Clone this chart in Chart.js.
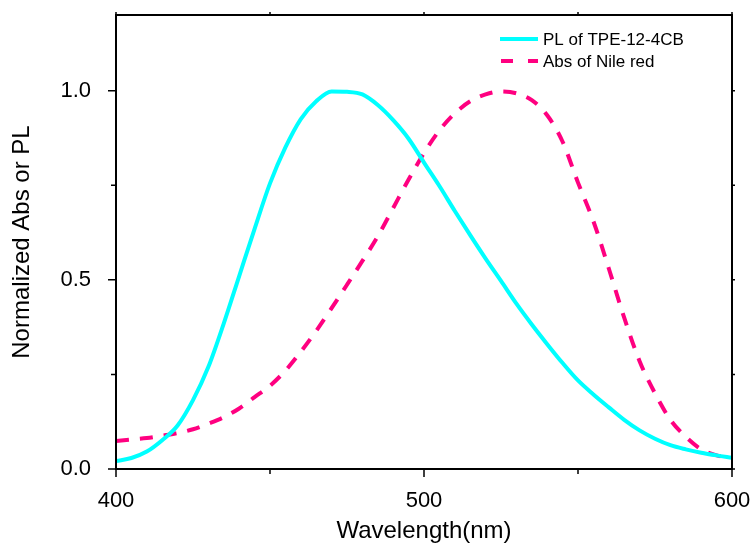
<!DOCTYPE html>
<html>
<head>
<meta charset="utf-8">
<script src="https://cdn.jsdelivr.net/npm/chart.js@4.4.0/dist/chart.umd.min.js"></script>
<style>
  html, body { margin: 0; padding: 0; background: #fff; }
  #c { display: block; }
</style>
</head>
<body>
<canvas id="c" width="755" height="548"></canvas>
<script>
// wavelength grid (nm)
const wavelength = [400, 405, 410, 415, 420, 425, 430, 435, 440, 445, 450, 455, 460, 465, 470, 475, 480, 485, 490, 495,
  500, 505, 510, 515, 520, 525, 530, 535, 540, 545, 550, 555, 560, 565, 570, 575, 580, 585, 590, 595, 600];

// PL of TPE-12-4CB (normalized)
const plTPE = [0.021, 0.029, 0.046, 0.076, 0.115, 0.182, 0.27, 0.385, 0.51, 0.635, 0.755, 0.85, 0.925, 0.972, 0.998, 0.997, 0.99, 0.962, 0.922, 0.873,
  0.81, 0.748, 0.682, 0.618, 0.556, 0.497, 0.437, 0.382, 0.33, 0.28, 0.234, 0.197, 0.163, 0.13, 0.102, 0.08, 0.063, 0.052, 0.043, 0.036, 0.03];

// Abs of Nile red (normalized)
const absNileRed = [0.074, 0.078, 0.082, 0.088, 0.095, 0.105, 0.12, 0.137, 0.16, 0.19, 0.22, 0.26, 0.31, 0.365, 0.425, 0.487, 0.55, 0.615, 0.69, 0.765,
  0.835, 0.895, 0.94, 0.972, 0.99, 0.998, 0.993, 0.975, 0.935, 0.865, 0.757, 0.655, 0.53, 0.40, 0.285, 0.2, 0.13, 0.085, 0.052, 0.036, 0.03];

const seriesNames = ["PL of TPE-12-4CB", "Abs of Nile red"];

const xTickValues = [400, 450, 500, 550, 600];
const xTickLabels = ["400", "", "500", "", "600"];
const yTickValues = [0, 0.25, 0.5, 0.75, 1.0];
const yTickLabels = ["0.0", "", "0.5", "", "1.0"];

const FONT = "'Liberation Sans', Arial, sans-serif";
const CYAN = "#00FFFF";
const PINK = "#FF0080";

// box around the plot + tick marks on all four sides (like Origin)
const framePlugin = {
  id: "frame",
  afterDraw(chart) {
    const { ctx, chartArea: a, scales } = chart;
    ctx.save();
    ctx.strokeStyle = "#000";
    ctx.lineWidth = 1.5;
    ctx.beginPath();
    scales.x.ticks.forEach((t, i) => {
      const px = scales.x.getPixelForValue(t.value);
      const len = xTickLabels[i] ? 8 : 5;
      ctx.moveTo(px, a.bottom); ctx.lineTo(px, a.bottom + len);
      ctx.moveTo(px, a.top); ctx.lineTo(px, a.top - 3);
    });
    scales.y.ticks.forEach((t, i) => {
      const py = scales.y.getPixelForValue(t.value);
      const len = yTickLabels[i] ? 8 : 5;
      ctx.moveTo(a.left, py); ctx.lineTo(a.left - len, py);
      ctx.moveTo(a.right, py); ctx.lineTo(a.right + 3, py);
    });
    ctx.stroke();
    ctx.lineWidth = 2;
    ctx.strokeRect(a.left, a.top, a.right - a.left, a.bottom - a.top);
    ctx.restore();
  }
};

// legend inside the top right corner
const legendPlugin = {
  id: "insideLegend",
  afterDraw(chart) {
    const { ctx } = chart;
    const ds = chart.data.datasets;
    ctx.save();
    ctx.lineWidth = 4;
    ctx.lineCap = "butt";
    // solid cyan
    ctx.strokeStyle = ds[0].borderColor;
    ctx.beginPath(); ctx.moveTo(500, 39); ctx.lineTo(538, 39); ctx.stroke();
    // dashed pink
    ctx.strokeStyle = ds[1].borderColor;
    ctx.beginPath();
    ctx.moveTo(501, 61); ctx.lineTo(513, 61);
    ctx.moveTo(528, 61); ctx.lineTo(538, 61);
    ctx.stroke();
    ctx.fillStyle = "#000";
    ctx.font = "17px " + FONT;
    ctx.textBaseline = "middle";
    ctx.fillText(ds[0].label, 543, 40);
    ctx.fillText(ds[1].label, 543, 62);
    ctx.restore();
  }
};

new Chart(document.getElementById("c"), {
  type: "line",
  data: {
    datasets: [
      {
        label: seriesNames[0],
        data: wavelength.map((w, i) => ({ x: w, y: plTPE[i] })),
        borderColor: CYAN,
        borderWidth: 4,
        pointRadius: 0,
        cubicInterpolationMode: "monotone",
        fill: false
      },
      {
        label: seriesNames[1],
        data: wavelength.map((w, i) => ({ x: w, y: absNileRed[i] })),
        borderColor: PINK,
        borderWidth: 4,
        borderDash: [13, 11],
        pointRadius: 0,
        cubicInterpolationMode: "monotone",
        fill: false
      }
    ]
  },
  options: {
    responsive: false,
    animation: false,
    layout: { padding: { top: 15, right: 23, left: 0, bottom: 0 } },
    plugins: {
      legend: { display: false },
      tooltip: { enabled: false }
    },
    scales: {
      x: {
        type: "linear",
        min: 400,
        max: 600,
        afterBuildTicks: (s) => { s.ticks = xTickValues.map(v => ({ value: v })); },
        afterFit: (s) => { s.height = 79; s.paddingLeft = 0; s.paddingRight = 0; },
        grid: { display: false },
        border: { display: false },
        ticks: {
          autoSkip: false,
          maxRotation: 0,
          padding: 11,
          color: "#000",
          font: { family: FONT, size: 22 },
          callback: (v) => xTickLabels[xTickValues.indexOf(v)]
        },
        title: {
          display: true,
          text: "Wavelength(nm)",
          color: "#000",
          font: { family: FONT, size: 24 },
          padding: { top: 0, bottom: 2 }
        }
      },
      y: {
        min: 0,
        max: 1.2,
        afterBuildTicks: (s) => { s.ticks = yTickValues.map(v => ({ value: v })); },
        afterFit: (s) => { s.width = 116; s.paddingTop = 0; s.paddingBottom = 0; },
        grid: { display: false },
        border: { display: false },
        ticks: {
          autoSkip: false,
          padding: 17,
          color: "#000",
          font: { family: FONT, size: 22 },
          callback: (v) => yTickLabels[yTickValues.indexOf(v)]
        },
        title: {
          display: true,
          text: "Normalized Abs or PL",
          color: "#000",
          font: { family: FONT, size: 24 },
          padding: { top: 8, bottom: 0 }
        }
      }
    }
  },
  plugins: [framePlugin, legendPlugin]
});
</script>
</body>
</html>
